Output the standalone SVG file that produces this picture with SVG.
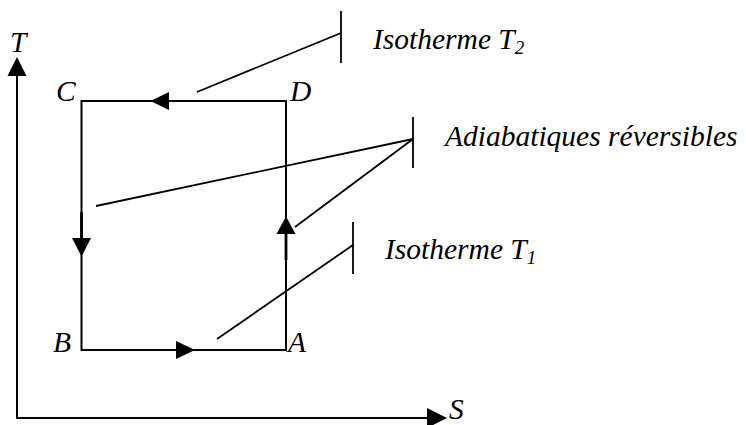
<svg xmlns="http://www.w3.org/2000/svg" width="746" height="425" viewBox="0 0 746 425">
<style>
.ln{stroke:#000;stroke-width:2;fill:none}
.ld{stroke:#000;stroke-width:1.8;fill:none}
.ah{fill:#000;stroke:none}
.lb{font-family:"Liberation Serif","Times New Roman",serif;font-style:italic;font-size:29.5px;fill:#000}
.sb{font-size:19px}
</style>
<rect width="746" height="425" fill="#fff"/>
<g id="axes">
<line class="ln" x1="17" y1="419" x2="17" y2="70"/>
<polygon class="ah" points="17,57 7.5,76 26.5,76"/>
<line class="ln" x1="16" y1="418" x2="432" y2="418"/>
<polygon class="ah" points="447,418 427,408 427,428"/>
<text class="lb" x="10" y="52">T</text>
<text class="lb" x="449" y="419">S</text>
</g>
<g id="cycle">
<path class="ln" d="M81.5,101 H286 V350 H81.5 Z"/>
<line x1="286" y1="234" x2="286" y2="260" stroke="#000" stroke-width="2.8"/>
<line x1="81.5" y1="212" x2="81.5" y2="238" stroke="#000" stroke-width="2.8"/>
</g>
<g id="node-C"><text class="lb" x="56" y="101">C</text></g>
<g id="node-D"><text class="lb" x="290" y="101">D</text></g>
<g id="node-B"><text class="lb" x="53" y="352">B</text></g>
<g id="node-A"><text class="lb" x="288" y="352">A</text></g>
<g id="connectors">
<polygon class="ah" points="150.5,101 169,92 169,110"/>
<polygon class="ah" points="81.5,256.5 72,238 91,238"/>
<polygon class="ah" points="195,350 176,341 176,359"/>
<polygon class="ah" points="286,216.5 276.5,234 295.5,234"/>
</g>
<g id="label-isotherme-T2">
<line class="ld" x1="197" y1="92" x2="341" y2="33"/>
<line class="ld" x1="341" y1="11" x2="341" y2="63"/>
<text class="lb" x="373" y="49">Isotherme T<tspan class="sb" dy="5">2</tspan></text>
</g>
<g id="label-adiabatiques">
<line class="ld" x1="96" y1="206" x2="413" y2="139"/>
<line class="ld" x1="295" y1="227" x2="413" y2="139"/>
<line class="ld" x1="413" y1="117" x2="413" y2="168"/>
<text class="lb" x="445" y="146">Adiabatiques réversibles</text>
</g>
<g id="label-isotherme-T1">
<line class="ld" x1="217" y1="339" x2="353" y2="245"/>
<line class="ld" x1="353" y1="222" x2="353" y2="274"/>
<text class="lb" x="385" y="259">Isotherme T<tspan class="sb" dy="5">1</tspan></text>
</g>
</svg>
